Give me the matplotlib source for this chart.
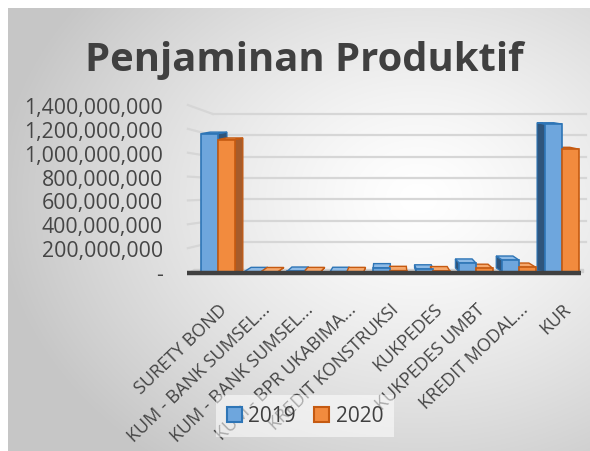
import numpy as np
import matplotlib
matplotlib.use("Agg")
import matplotlib.pyplot as plt
from matplotlib.patches import Polygon, Patch
from matplotlib.ticker import FuncFormatter

# ---- data ----
categories = ["SURETY BOND", "KUM - BANK SUMSEL...", "KUM - BANK SUMSEL...",
              "KUM - BPR UKABIMA...", "KREDIT KONSTRUKSI", "KUKPEDES",
              "KUKPEDES UMBT", "KREDIT MODAL...", "KUR"]
series_names = ["2019", "2020"]
values_2019 = [1160e6, 3e6, 6e6, 4e6, 35e6, 25e6, 75e6, 100e6, 1240e6]
values_2020 = [1110e6, 2e6, 3e6, 3e6, 12e6, 10e6, 30e6, 40e6, 1030e6]
y_ticks = [0, 200e6, 400e6, 600e6, 800e6, 1000e6, 1200e6, 1400e6]
title = "Penjaminan Produktif"

plt.rcParams['font.family'] = ['Open Sans', 'DejaVu Sans']
TXT = "#454545"

W, H = 590, 452
fig = plt.figure(figsize=(W / 100, H / 100), dpi=100)
fig.patch.set_facecolor("white")

# background radial gradient
bg = fig.add_axes([8 / W, 0, (W - 8) / W, (H - 9) / H], zorder=-5)
yy, xx = np.mgrid[0:443, 0:582]
cx, cy = 410, 190
r = np.sqrt(((xx - cx) / 420.0) ** 2 + ((yy - cy) / 330.0) ** 2)
g = np.clip(1.0 - 0.22 * r ** 1.3, 0.78, 1.0)
bg.imshow(np.dstack([g, g, g]), aspect='auto', extent=[0, 1, 0, 1], origin='upper')
bg.axis('off')

# main axes
x_left_px, x_right_px = 185.75, 585.6
y_top_px, y_bot_px = 106, 273
ax = fig.add_axes([x_left_px / W, 1 - y_bot_px / H,
                   (x_right_px - x_left_px) / W, (y_bot_px - y_top_px) / H])
ax.set_facecolor("none")
for s in ax.spines.values():
    s.set_visible(False)
ax.set_xlim(-0.75, 8.55)
ax.set_ylim(0, 1400e6)

x = np.arange(len(categories))
bw = 0.39

# back-wall gridlines (perspective)
for v in y_ticks[1:]:
    gy = 71e6 + 0.8954 * v
    ax.plot([-0.12, 8.55], [gy, gy], color="#d6d6d6", lw=1.6, zorder=1, clip_on=False)
    ax.plot([-0.70, -0.12], [v, gy], color="#d6d6d6", lw=1.6, zorder=1, clip_on=False)

# floor
ax.fill([-0.70, 8.5, 8.5, -0.55], [0, 0, 28e6, 28e6], color="#cfcfcf", zorder=1.5, clip_on=False)
ax.plot([-0.72, 8.45], [-6e6, -6e6], color="#404040", lw=3.2, zorder=6,
        solid_capstyle='butt', clip_on=False)

styles = [
    dict(front="#6ea6dd", edge="#2e75b6", side="#2f557c", top="#8fbbe6"),
    dict(front="#f28b3e", edge="#c55a11", side="#a65c2b", top="#f6a86c"),
]

def bar3d(xc, h, st, z):
    x0, x1 = xc - bw / 2, xc + bw / 2
    dx = -0.05 * (xc - 4.0)
    dy = 30e6 * max(0.0, 1 - h / 1500e6) + 6e6
    if dx > 0:
        side = [(x1, 0), (x1, h), (x1 + dx, h + dy), (x1 + dx, dy)]
    else:
        side = [(x0, 0), (x0, h), (x0 + dx, h + dy), (x0 + dx, dy)]
    ax.add_patch(Polygon(side, closed=True, facecolor=st["side"], edgecolor=st["edge"],
                         lw=0.8, zorder=z))
    top = [(x0, h), (x1, h), (x1 + dx, h + dy), (x0 + dx, h + dy)]
    ax.add_patch(Polygon(top, closed=True, facecolor=st["top"], edgecolor=st["edge"],
                         lw=1.0, zorder=z + 0.1))

for i, vals in enumerate([values_2019, values_2020]):
    xs = x + (i - 0.5) * bw
    for xc, h in zip(xs, vals):
        bar3d(xc, h, styles[i], 3 + i * 0.5)
    ax.bar(xs, vals, width=bw, color=styles[i]["front"], edgecolor=styles[i]["edge"],
           linewidth=1.2, zorder=4 + i * 0.5)

# ticks
ax.yaxis.set_major_formatter(FuncFormatter(lambda v, p: "-" if v == 0 else f"{v:,.0f}"))
ax.set_yticks(y_ticks)
ax.tick_params(axis='y', length=0, pad=16.5, labelsize=15.3, labelcolor=TXT)
ax.set_xticks(x)
ax.set_xticklabels(categories, rotation=44, ha='right', va='top',
                   rotation_mode='anchor', fontsize=13, color=TXT)
ax.tick_params(axis='x', length=0, pad=20)

# title
fig.text(304 / W, 1 - 61 / H, title, ha='center', va='center', fontsize=28.8,
         fontweight='bold', color="#404040")

# legend
handles = [Patch(facecolor=styles[0]["front"], edgecolor=styles[0]["edge"], lw=1.5),
           Patch(facecolor=styles[1]["front"], edgecolor=styles[1]["edge"], lw=1.5)]
leg = fig.legend(handles, series_names, loc='center', bbox_to_anchor=(305 / W, 1 - 417 / H),
                 ncol=2, fontsize=15, frameon=True, handlelength=0.72, handleheight=0.72,
                 handletextpad=0.3, columnspacing=0.9, borderpad=0.5)
leg.get_frame().set_facecolor("white")
leg.get_frame().set_alpha(0.55)
leg.get_frame().set_edgecolor("none")
leg.get_frame().set_boxstyle("square", pad=0)
for t in leg.get_texts():
    t.set_color("#404040")

fig.savefig("out.png", dpi=100)
